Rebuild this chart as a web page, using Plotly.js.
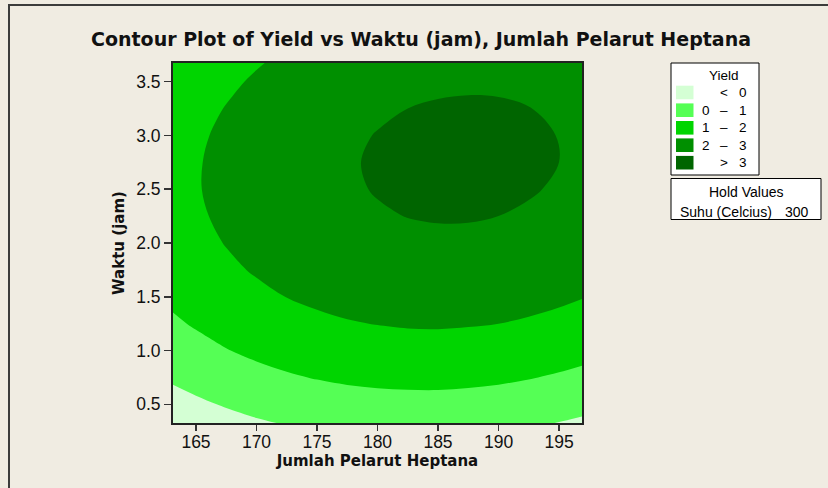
<!DOCTYPE html>
<html><head><meta charset="utf-8">
<script src="https://cdn.plot.ly/plotly-3.0.1.min.js"></script>
<style>
html,body{margin:0;padding:0;background:#F0ECE2;}
#wrap{position:relative;width:828px;height:488px;overflow:hidden;}
#chart{width:828px;height:488px;}
#frame{position:absolute;left:8px;top:4px;width:900px;height:600px;border-left:2px solid #3c3c3c;border-top:2px solid #3c3c3c;pointer-events:none;}
</style></head>
<body>
<div id="wrap"><div id="chart"></div><div id="frame"></div></div>
<script>
// Jumlah Pelarut Heptana (x grid)
const jumlahPelarut = [163.1,165,167.5,170,172.5,175,177.5,180,182.5,185,187.5,190,192.5,195,196.9];
// Waktu (jam) (y grid)
const waktuJam = [0.326,0.5,0.75,1.0,1.25,1.5,1.75,2.0,2.25,2.5,2.75,3.0,3.25,3.5,3.674];
const yieldZ = [
[-0.70,-0.51,-0.29,-0.10,0.05,0.17,0.26,0.32,0.34,0.34,0.30,0.22,0.12,-0.02,-0.14],
[-0.34,-0.15,0.07,0.27,0.42,0.55,0.64,0.70,0.73,0.73,0.69,0.62,0.52,0.38,0.26],
[0.13,0.32,0.55,0.75,0.91,1.04,1.14,1.20,1.23,1.24,1.20,1.14,1.04,0.91,0.79],
[0.54,0.73,0.97,1.17,1.33,1.47,1.57,1.64,1.68,1.69,1.66,1.60,1.51,1.38,1.27],
[0.88,1.08,1.32,1.53,1.70,1.84,1.95,2.02,2.07,2.08,2.05,2.00,1.91,1.79,1.68],
[1.17,1.38,1.62,1.83,2.01,2.15,2.26,2.34,2.39,2.41,2.39,2.34,2.26,2.14,2.03],
[1.40,1.61,1.86,2.07,2.25,2.40,2.52,2.60,2.66,2.68,2.67,2.62,2.54,2.43,2.33],
[1.57,1.78,2.03,2.25,2.44,2.59,2.72,2.81,2.86,2.89,2.88,2.84,2.77,2.67,2.56],
[1.68,1.89,2.15,2.38,2.57,2.73,2.85,2.95,3.01,3.04,3.04,3.00,2.94,2.84,2.74],
[1.73,1.95,2.21,2.44,2.64,2.80,2.93,3.03,3.10,3.13,3.14,3.11,3.04,2.95,2.86],
[1.72,1.94,2.21,2.44,2.64,2.81,2.95,3.06,3.13,3.17,3.17,3.15,3.09,3.00,2.91],
[1.65,1.88,2.15,2.39,2.59,2.77,2.91,3.02,3.10,3.14,3.15,3.13,3.08,2.99,2.91],
[1.52,1.75,2.03,2.27,2.48,2.66,2.81,2.92,3.00,3.05,3.07,3.06,3.01,2.93,2.85],
[1.33,1.57,1.85,2.10,2.31,2.50,2.65,2.77,2.85,2.91,2.93,2.92,2.88,2.80,2.72],
[1.16,1.40,1.69,1.94,2.16,2.35,2.50,2.62,2.71,2.77,2.80,2.79,2.75,2.68,2.60]
];
const contourLevels = [0,1,2,3];
const bandColors = ['#D4FFD4','#55FF55','#00D500','#008F00','#006500'];
const bandLow = ['', '0', '1', '2', ''];
const bandSym = ['<', '\u2013', '\u2013', '\u2013', '>'];
const bandHigh = ['0', '1', '2', '3', '3'];
const xTicks = [165,170,175,180,185,190,195];
const yTicks = [0.5,1.0,1.5,2.0,2.5,3.0,3.5];
const holdName = 'Suhu (Celcius)';
const holdValue = '300';

const W=828,H=488,L=173,R=246,T=63,B=65;
const PW=W-L-R, PH=H-T-B;
const X=px=>(px-L)/PW, Y=py=>(H-B-py)/PH;

const lo=contourLevels[0]-0.5, hi=contourLevels[contourLevels.length-1]+0.5;
const cs=[];
bandColors.forEach((c,i)=>{const a=i===0?0:(i-0.5)/(bandColors.length-1), b=i===bandColors.length-1?1:(i+0.5)/(bandColors.length-1);cs.push([a,c],[b,c]);});

const trace={type:'contour',x:jumlahPelarut,y:waktuJam,z:yieldZ,
  autocontour:false,contours:{start:contourLevels[0],end:contourLevels[contourLevels.length-1],size:1,coloring:'fill',showlines:false},
  line:{width:0,smoothing:1},colorscale:cs,zauto:false,zmin:lo,zmax:hi,showscale:false,hoverinfo:'skip'};

const shapes=[], ann=[];
const legFont={family:'Liberation Sans, Arial, sans-serif',size:13.5,color:'#000'};
// Yield legend box
shapes.push({type:'rect',xref:'paper',yref:'paper',x0:X(671),x1:X(759),y0:Y(63),y1:Y(175),line:{color:'#000',width:1},fillcolor:'#fff',layer:'below'});
ann.push({xref:'paper',yref:'paper',x:X(723.5),y:Y(75),text:'Yield',showarrow:false,xanchor:'center',yanchor:'middle',font:legFont});
const rowY=[92.5,110.2,127.8,145.2,162.7];
bandColors.forEach((c,i)=>{
  shapes.push({type:'rect',xref:'paper',yref:'paper',x0:X(676),x1:X(693.5),y0:Y(rowY[i]-6.8),y1:Y(rowY[i]+6.8),line:{width:0},fillcolor:c});
  if(bandLow[i]) ann.push({xref:'paper',yref:'paper',x:X(705.5),y:Y(rowY[i]),text:bandLow[i],showarrow:false,xanchor:'center',yanchor:'middle',font:legFont});
  ann.push({xref:'paper',yref:'paper',x:X(724),y:Y(rowY[i]),text:bandSym[i],showarrow:false,xanchor:'center',yanchor:'middle',font:legFont});
  ann.push({xref:'paper',yref:'paper',x:X(743),y:Y(rowY[i]),text:bandHigh[i],showarrow:false,xanchor:'center',yanchor:'middle',font:legFont});
});
// Hold values box
shapes.push({type:'rect',xref:'paper',yref:'paper',x0:X(671),x1:X(821),y0:Y(178.5),y1:Y(219.5),line:{color:'#000',width:1},fillcolor:'#fff',layer:'below'});
const holdFont={family:'Liberation Sans, Arial, sans-serif',size:14,color:'#000'};
ann.push({xref:'paper',yref:'paper',x:X(746),y:Y(192),text:'Hold Values',showarrow:false,xanchor:'center',yanchor:'middle',font:holdFont});
ann.push({xref:'paper',yref:'paper',x:X(678),y:Y(211.5),text:holdName,showarrow:false,xanchor:'left',yanchor:'middle',font:holdFont});
ann.push({xref:'paper',yref:'paper',x:X(811),y:Y(211.5),text:holdValue,showarrow:false,xanchor:'right',yanchor:'middle',font:holdFont});

const tickFont={family:'Liberation Sans, Arial, sans-serif',size:17.5,color:'#111'};
const titleFont={family:'DejaVu Sans, Verdana, sans-serif',size:15,color:'#111'};
const layout={width:W,height:H,margin:{l:L,r:R,t:T,b:B,pad:0},
  paper_bgcolor:'#F0ECE2',plot_bgcolor:'#F0ECE2',showlegend:false,
  title:{text:'<b>Contour Plot of Yield vs Waktu (jam), Jumlah Pelarut Heptana</b>',xref:'container',yref:'container',x:421/W,y:1-39/H,xanchor:'center',yanchor:'middle',
    font:{family:'DejaVu Sans, Verdana, sans-serif',size:19,color:'#111'}},
  xaxis:{range:[jumlahPelarut[0],jumlahPelarut[jumlahPelarut.length-1]],tickvals:xTicks,ticktext:xTicks.map(String),ticks:'outside',ticklen:6,tickwidth:1.5,tickcolor:'#333',
    ticklabelstandoff:-4,
    showline:true,mirror:true,linecolor:'#222',linewidth:2,showgrid:false,zeroline:false,tickfont:tickFont,
    title:{text:'<b>Jumlah Pelarut Heptana</b>',font:titleFont,standoff:4}},
  yaxis:{range:[waktuJam[0],waktuJam[waktuJam.length-1]],tickvals:yTicks,ticktext:yTicks.map(v=>v.toFixed(1)),ticks:'outside',ticklen:7,tickwidth:1.5,tickcolor:'#333',
    showline:true,mirror:true,linecolor:'#222',linewidth:2,showgrid:false,zeroline:false,tickfont:tickFont,
    title:{text:'<b>Waktu (jam)</b>',font:titleFont,standoff:8}},
  shapes:shapes,annotations:ann};
Plotly.newPlot('chart',[trace],layout,{staticPlot:true,displayModeBar:false});
</script></body></html>
